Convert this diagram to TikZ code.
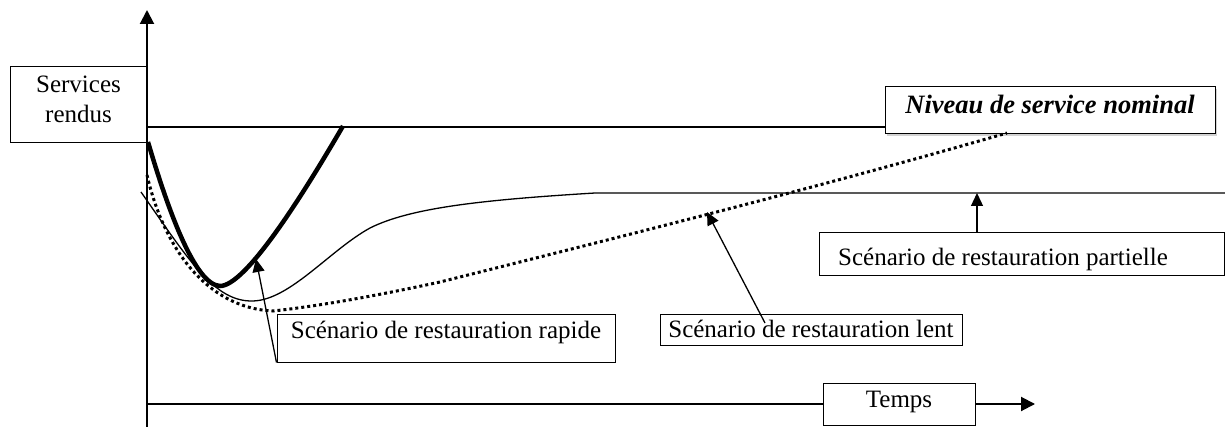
\documentclass[tikz,border=0pt]{standalone}
\usepackage{fontspec}
\setmainfont{Liberation Serif}
\usetikzlibrary{arrows.meta,shadows}
% text of a framed box: #1 = twice the horizontal shift, #2 = raise of the baseline
\newcommand\boxtext[3]{\raisebox{#2}[0pt][0pt]{\makebox[0pt]{\hspace*{#1}#3}}}
\begin{document}
\begin{tikzpicture}[x=1pt,y=-1pt,
  every node/.style={font=\fontsize{25}{30}\selectfont},
  frame/.style={draw, line width=1pt, inner sep=0pt},
  axis/.style={line width=2pt, -{Triangle[length=14pt,width=14pt]}},
  ptr/.style={line width=1.3pt, -{Triangle[length=13pt,width=12pt]}},
  fineline/.style={line width=1.3pt},
  heavy/.style={line width=4.5pt},
  dots/.style={line width=3pt, dash pattern=on 3pt off 3pt}]
\useasboundingbox (0,0) rectangle (1225,427);

% axes
\coordinate (ybot) at (147,427);
\coordinate (ytop) at (147,10);
\coordinate (xorg) at (147,404);
\coordinate (xend) at (1035,404);

% labelled boxes
\node[frame, minimum width=137, minimum height=76] (serv) at (78.5,105)
  {\boxtext{0pt}{-18pt}{\begin{tabular}[b]{@{}c@{}}Services\\rendus\end{tabular}}};
\node[frame, fill=white, drop shadow={shadow xshift=2pt, shadow yshift=-2pt, fill=gray!70},
      minimum width=330, minimum height=47] (niv) at (1050,110.5)
  {\boxtext{0pt}{-3pt}{\fontsize{26.5}{30}\selectfont\textbf{\textit{Niveau de service nominal}}}};
\node[frame, minimum width=405, minimum height=43] (part) at (1021.5,254.5)
  {\boxtext{-37pt}{-11.5pt}{Scénario de restauration partielle}};
\node[frame, minimum width=338, minimum height=47] (rap) at (446,338.5)
  {\boxtext{0pt}{0.5pt}{Scénario de restauration rapide}};
\node[frame, minimum width=302, minimum height=30] (lent) at (811,330)
  {\boxtext{0pt}{-8pt}{Scénario de restauration lent}};
\node[frame, minimum width=152, minimum height=42] (temps) at (899,404)
  {\boxtext{0pt}{-3pt}{Temps}};

\draw[axis] (ybot) -- (ytop);
\draw[line width=2pt] (xorg) -- (temps.west);
\draw[axis] (temps.east) -- (xend);

% nominal service level
\coordinate (nom) at (147,127);
\draw[fineline] (nom) -- (nom -| niv.west);

% partial restoration
\draw[fineline] (141,192) .. controls (190,262) and (215,302) .. (253,301)
  .. controls (290,300) and (330,250) .. (370,228)
  .. controls (410,208) and (480,200) .. (595,193) -- (1225,193);

% slow restoration
\draw[dots] (147,175) .. controls (163,245) and (205,308) .. (273,311)
  .. controls (320,306) and (380,295) .. (440,282)
  .. controls (620,237) and (820,187) .. (1007,133);

% fast restoration
\draw[heavy] (148,142) .. controls (168,210) and (195,285) .. (220,286)
  .. controls (245,286) and (300,200) .. (343,126);

% pointers from the labels to the curves
\coordinate (rtip) at (256,259);
\draw[ptr] (rap.south west) -- (rtip);
\coordinate (ltip) at (707,212);
\coordinate (lfoot) at (765,323);
\draw[ptr] (lfoot) -- (ltip);
\coordinate (ptip) at (977,193);
\draw[ptr] (ptip |- part.north) -- (ptip);
\end{tikzpicture}
\end{document}
